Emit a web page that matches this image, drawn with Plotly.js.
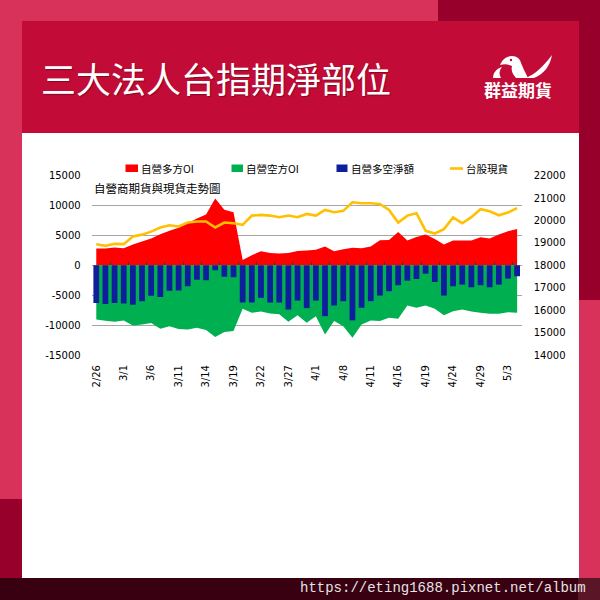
<!DOCTYPE html>
<html>
<head>
<meta charset="utf-8">
<script src="https://cdn.plot.ly/plotly-3.0.1.min.js"></script>
<style>
html,body{margin:0;padding:0;width:600px;height:600px;overflow:hidden;background:#d8325b;}
.abs{position:absolute;}
#tr{left:438px;top:0;width:162px;height:300px;background:#96002a;}
#bl{left:0;top:499px;width:22px;height:79px;background:#96002a;}
#hdr{left:22px;top:21px;width:557px;height:112px;background:#c20c37;}
#panel{left:22px;top:133px;width:557px;height:445px;background:#ffffff;}
#foot{left:0;top:578px;width:600px;height:22px;background:#380010;}
#footr{left:578px;top:578px;width:22px;height:22px;background:#5a1626;}
#title{left:41px;top:57px;font-family:"Noto Sans CJK TC","Noto Sans CJK SC",sans-serif;font-size:35px;line-height:42px;color:#ffffff;font-weight:400;white-space:nowrap;text-shadow:1px 1px 1px rgba(90,0,20,0.55);}
#logotext{left:484px;top:80px;font-family:"Noto Sans CJK TC",sans-serif;font-weight:700;font-size:17px;line-height:20px;color:#ffffff;white-space:nowrap;}
#logo{left:490px;top:52px;width:62px;height:30px;}
#url{left:300px;top:580px;font-family:"Liberation Mono","DejaVu Sans Mono",monospace;font-size:14px;line-height:17px;color:#e4e4e4;white-space:nowrap;}
#chart{left:0;top:0;width:600px;height:600px;}
</style>
</head>
<body>
<div id="tr" class="abs"></div>
<div id="bl" class="abs"></div>
<div id="hdr" class="abs"></div>
<div id="panel" class="abs"></div>
<div id="foot" class="abs"></div>
<div id="footr" class="abs"></div>
<div id="title" class="abs">三大法人台指期淨部位</div>
<svg id="logo" class="abs" viewBox="0 0 62 30">
  <path d="M3,26 C3,21 6,17 12,15 C9,19 9,22 11,26 Z" fill="#fff"/>
  <path d="M10,13 C12,8 16,4 22,4 C27,4 30,7 31,11 C33,16 35,20 38,26 L26,26 C22,22 21,18 22,14 C18,12 14,12 10,13 Z" fill="#fff"/>
  <circle cx="21" cy="8" r="1.2" fill="#c20c37"/>
  <path d="M36,26 C45,22 53,15 62,3 C60,14 54,22 44,26 Z" fill="#fff"/>
</svg>
<div id="logotext" class="abs">群益期貨</div>
<div id="url" class="abs">https://eting1688.pixnet.net/album</div>
<div id="chart" class="abs"></div>
<script>
// ---- data ----
const dates = ['2/26','2/27','2/29','3/1','3/4','3/5','3/6','3/7','3/8','3/11','3/12','3/13','3/14','3/15','3/18','3/19','3/20','3/21','3/22','3/25','3/26','3/27','3/28','3/29','4/1','4/2','4/3','4/8','4/9','4/10','4/11','4/12','4/15','4/16','4/17','4/18','4/19','4/22','4/23','4/24','4/25','4/26','4/29','4/30','5/2','5/3','5/6'];
const tickDates = ['2/26','3/1','3/6','3/11','3/14','3/19','3/22','3/27','4/1','4/8','4/11','4/16','4/19','4/24','4/29','5/3'];
const longOI = [2800,2800,3000,2880,3500,4000,4500,5200,5800,6300,7050,7850,8500,11200,9300,8900,900,1700,2350,2050,2000,2050,2400,2500,2600,3150,2350,2700,2950,2850,3150,4200,4250,5600,4150,4750,5150,4400,3500,4150,4150,4150,4700,4500,5150,5700,6100];
const shortOI = [-9080,-9250,-9430,-9220,-10060,-9900,-9630,-10620,-10170,-10650,-10750,-10450,-10800,-12000,-11170,-11000,-7280,-7940,-7720,-8060,-8170,-9440,-8330,-9610,-8500,-11560,-9330,-10170,-12110,-9890,-9220,-9330,-8780,-8940,-6720,-7110,-6720,-7280,-8330,-7670,-7390,-7720,-7940,-8110,-8110,-7830,-7940];
const netOI = [-6300,-6450,-6300,-6400,-6580,-6020,-5080,-5280,-4240,-4220,-3500,-2400,-2500,-830,-1900,-2000,-6220,-6220,-5440,-6220,-6220,-7390,-5890,-7150,-5890,-8500,-6720,-6000,-9200,-7100,-6000,-5060,-4330,-3330,-2560,-2280,-1390,-2780,-5060,-3500,-3220,-3670,-3330,-3670,-3220,-2220,-1830];
const taiex = [18940,18870,18960,18945,19285,19370,19505,19690,19790,19735,19910,19955,19955,19690,19910,19880,19805,20220,20250,20220,20150,20220,20150,20295,20220,20475,20370,20430,20815,20770,20770,20740,20475,19910,20220,20325,19540,19420,19615,20135,19880,20150,20505,20415,20235,20355,20550];
const leftTicks = [-15000,-10000,-5000,0,5000,10000,15000];
const leftLabels = ['-15000','-10000','-5000','0','5000','10000','15000'];
const rightTicks = [14000,15000,16000,17000,18000,19000,20000,21000,22000];
const rightLabels = ['14000','15000','16000','17000','18000','19000','20000','21000','22000'];
const seriesNames = ['自營多方OI','自營空方OI','自營多空淨額','台股現貨'];
const chartTitle = '自營商期貨與現貨走勢圖';

// ---- styling ----
const W = 600, H = 600;
const px = x => x / W, py = y => 1 - y / H;
const colors = ['#ff0000', '#00b050', '#0f1e9c', '#ffc000'];
const tickFont = {family: 'DejaVu Sans, Verdana, sans-serif', size: 10, color: '#000'};
const cjk = 'Noto Sans CJK TC, Noto Sans CJK SC, sans-serif';
const xDom = [px(91.7), px(521.7)];
const yDom = [py(355), py(175.7)];
const zeroPos = py(265.4);

const traces = [
  {type: 'scatter', x: dates, y: longOI, name: seriesNames[0], mode: 'none', fill: 'tozeroy', fillcolor: colors[0], xaxis: 'x', yaxis: 'y', hoverinfo: 'skip', zorder: 0},
  {type: 'scatter', x: dates, y: shortOI, name: seriesNames[1], mode: 'none', fill: 'tozeroy', fillcolor: colors[1], xaxis: 'x', yaxis: 'y', hoverinfo: 'skip', zorder: 0},
  {type: 'bar', x: dates, y: netOI, name: seriesNames[2], marker: {color: colors[2], line: {width: 0}}, xaxis: 'x', yaxis: 'y', hoverinfo: 'skip', zorder: 1},
  {type: 'scatter', mode: 'lines', x: dates, y: taiex, name: seriesNames[3], line: {color: colors[3], width: 2.6}, xaxis: 'x2', yaxis: 'y2', hoverinfo: 'skip', zorder: 2}
];

// manual legend
const legendItems = [
  {kind: 'rect', x0: 125.5, x1: 138, tx: 140},
  {kind: 'rect', x0: 231.5, x1: 243, tx: 245},
  {kind: 'rect', x0: 336.5, x1: 347.5, tx: 349.5},
  {kind: 'line', x0: 450, x1: 463, tx: 464.5}
];
const shapes = [];
const annotations = [];
legendItems.forEach((it, i) => {
  if (it.kind === 'rect') {
    shapes.push({type: 'rect', xref: 'paper', yref: 'paper', x0: px(it.x0), x1: px(it.x1), y0: py(172), y1: py(164.5), fillcolor: colors[i], line: {width: 0}});
  } else {
    shapes.push({type: 'line', xref: 'paper', yref: 'paper', x0: px(it.x0), x1: px(it.x1), y0: py(168.5), y1: py(168.5), line: {color: colors[i], width: 2.6}});
  }
  annotations.push({xref: 'paper', yref: 'paper', x: px(it.tx), y: py(168.5), xanchor: 'left', yanchor: 'middle', showarrow: false, text: seriesNames[i], font: {family: cjk, size: 10.5, color: '#000'}, borderpad: 0});
});
annotations.push({xref: 'paper', yref: 'paper', x: px(92.5), y: py(187.5), xanchor: 'left', yanchor: 'middle', showarrow: false, text: chartTitle, font: {family: cjk, size: 11.5, color: '#000'}, borderpad: 0});

const layout = {
  width: W, height: H,
  margin: {l: 0, r: 0, t: 0, b: 0, pad: 0},
  paper_bgcolor: 'rgba(0,0,0,0)',
  plot_bgcolor: '#ffffff',
  showlegend: false,
  hovermode: false,
  bargap: 0.37,
  xaxis: {
    domain: xDom, type: 'category', categoryorder: 'array', categoryarray: dates, range: [-0.5, dates.length - 0.5],
    tickmode: 'array', tickvals: tickDates, ticktext: tickDates, tickangle: -90, tickfont: tickFont,
    ticks: 'outside', ticklen: 5, tickcolor: 'rgba(0,0,0,0)',
    showline: true, linecolor: '#7f7f7f', linewidth: 1, mirror: true, showgrid: false, zeroline: false, anchor: 'y'
  },
  xaxis2: {
    overlaying: 'x', type: 'category', categoryorder: 'array', categoryarray: dates, range: [-0.5, dates.length - 0.5],
    anchor: 'free', position: zeroPos, side: 'bottom',
    showline: true, linecolor: '#3a3a3a', linewidth: 1,
    ticks: 'inside', tickson: 'boundaries', ticklen: 3, tickcolor: '#3a3a3a', tickwidth: 1,
    showticklabels: false, showgrid: false, zeroline: false
  },
  yaxis: {
    domain: yDom, range: [-15000, 15000], tickmode: 'array', tickvals: leftTicks, ticktext: leftLabels, tickfont: tickFont,
    ticks: 'outside', ticklen: 8, tickcolor: 'rgba(0,0,0,0)',
    showgrid: true, gridcolor: '#a6a6a6', gridwidth: 1, zeroline: false,
    showline: true, linecolor: '#4a4a4a', linewidth: 1, anchor: 'x'
  },
  yaxis2: {
    overlaying: 'y', side: 'right', anchor: 'x2', range: [14000, 22000], tickmode: 'array', tickvals: rightTicks, ticktext: rightLabels, tickfont: tickFont,
    ticks: 'outside', ticklen: 9, tickcolor: 'rgba(0,0,0,0)',
    showgrid: false, zeroline: false, showline: true, linecolor: '#4a4a4a', linewidth: 1
  },
  shapes: shapes,
  annotations: annotations
};

Plotly.newPlot('chart', traces, layout, {displayModeBar: false, staticPlot: true});
</script>
</body>
</html>
